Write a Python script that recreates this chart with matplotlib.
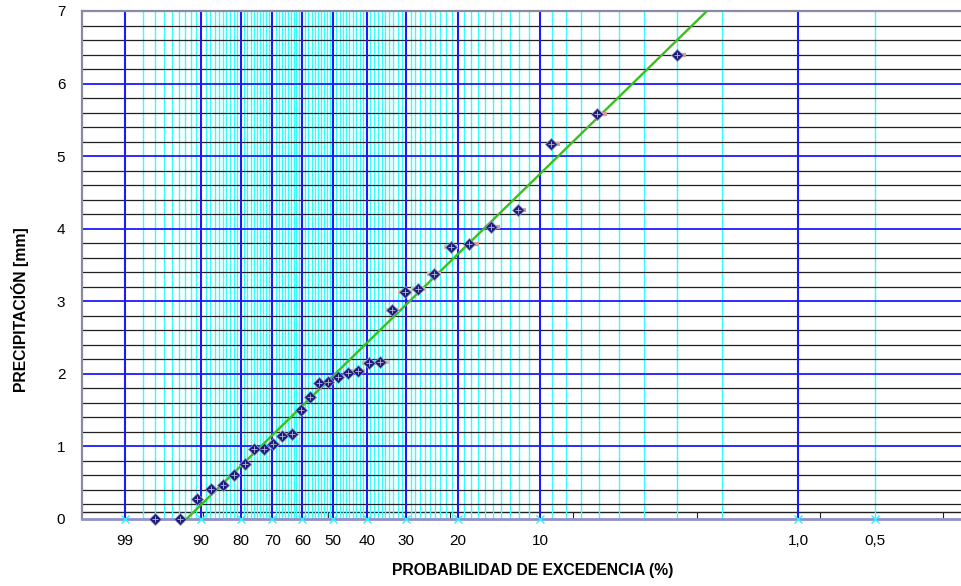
import numpy as np
import matplotlib
matplotlib.use("Agg")
import matplotlib.pyplot as plt

plt.rcParams['font.family'] = ['Liberation Sans', 'DejaVu Sans']

# ---- data ----
exceed_pct = [3.0, 6.1, 9.1, 12.1, 15.2, 18.2, 21.2, 24.2, 27.3, 30.3, 33.3,
              36.4, 39.4, 42.4, 45.5, 48.5, 51.5, 54.5, 57.6, 60.6, 63.6,
              66.7, 69.7, 72.7, 75.8, 78.8, 81.8, 84.8, 87.9, 90.9, 93.9, 97.0]
precip_mm = [6.39, 5.58, 5.17, 4.26, 4.02, 3.785, 3.75, 3.37, 3.17, 3.13, 2.88,
             2.16, 2.15, 2.04, 2.01, 1.95, 1.89, 1.88, 1.68, 1.50, 1.175,
             1.15, 1.03, 0.965, 0.965, 0.755, 0.61, 0.47, 0.41, 0.28, 0.0, 0.0]

pink_exc = [2.9, 5.9, 8.9, 11.9, 14.8, 17.7]
pink_val = [6.39, 5.58, 5.17, 4.26, 4.02, 3.785]
khaki_exc = [21.2, 24.2, 27.3, 30.3, 33.3, 36.0, 39.4, 42.4]
khaki_val = [3.75, 3.37, 3.17, 3.13, 2.88, 2.16, 2.15, 2.04]

# fitted Gumbel line (location, scale)
fit_loc = 1.431
fit_scale = 1.478

tick_pcts = [99, 90, 80, 70, 60, 50, 40, 30, 20, 10, 1.0, 0.5]
tick_labels = ['99', '90', '80', '70', '60', '50', '40', '30', '20', '10', '1,0', '0,5']
major_pcts = [99, 90, 80, 70, 60, 50, 40, 30, 20, 10, 1.0]
minor_pcts = [p for p in range(2, 99) if p % 10 != 0 and p != 99] + [0.5]
sec_ticks_u = [-0.818, 0.320, 1.430, 2.549, 3.676, 4.795, 5.914]


def gumbel_u(pct):
    """reduced Gumbel variate from exceedance probability (%)"""
    F = 1.0 - np.asarray(pct, dtype=float) / 100.0
    return -np.log(-np.log(F))


fig = plt.figure(figsize=(9.61, 5.86), dpi=100)
ax = fig.add_axes([82 / 961, 1 - 519 / 586, 879 / 961, 508 / 586])
ax.set_xlim(-1.919, 6.08)
ax.set_ylim(0, 7)

# vertical grid
for p in minor_pcts:
    ax.axvline(gumbel_u(p), color='#33ffff', lw=1.0, zorder=1)
# horizontal grid
for yv in np.arange(0.2, 7.0, 0.2):
    if abs(yv - round(yv)) < 1e-6:
        continue
    ax.axhline(yv, color='#202020', lw=0.9, zorder=1.5)
for p in major_pcts:
    ax.axvline(gumbel_u(p), color='#1a1aff', lw=1.5, zorder=2)
for yv in range(1, 7):
    ax.axhline(yv, color='#1a1aff', lw=1.3, zorder=2)

# fitted lines
u_line = np.linspace(-2.5, 6.5, 50)
ax.plot(u_line, fit_loc + fit_scale * u_line, color='#c07050', lw=1.8,
        alpha=0.6, zorder=3)
ax.plot(u_line, fit_loc + fit_scale * u_line, color='#22cc11', lw=1.4, zorder=3.1)

# secondary dash markers
ax.plot(gumbel_u(pink_exc), pink_val, ls='none', marker='_', ms=9, mew=3,
        color='#d89a9a', zorder=3.5, clip_on=False)
ax.plot(gumbel_u(khaki_exc), khaki_val, ls='none', marker='_', ms=10, mew=3,
        color='#c8c8a0', zorder=3.5, clip_on=False)

# data points
xu = gumbel_u(exceed_pct)
ax.plot(xu, precip_mm, ls='none', marker='D', ms=5.8, mfc='#1a1a78',
        mec='#8c8cc0', mew=0.6, zorder=4, clip_on=False)
ax.plot(xu, precip_mm, ls='none', marker='+', ms=5, mew=0.6,
        color='#b8b8d8', zorder=4.1, clip_on=False)

# cyan x at ticks
ax.plot(gumbel_u(tick_pcts), [0] * len(tick_pcts), ls='none', marker='x',
        ms=6, mew=1.0, color='#33eeff', zorder=5, clip_on=False)

# axes styling
ax.set_xticks(gumbel_u(tick_pcts))
ax.set_xticklabels(tick_labels)
ax.set_yticks(range(0, 8))
ax.tick_params(axis='x', length=0, pad=11, labelsize=11)
ax.tick_params(axis='y', length=0, pad=12, labelsize=11)
for s in ['top', 'left']:
    ax.spines[s].set_color('#8a8aa0')
    ax.spines[s].set_linewidth(1.6)
ax.spines['right'].set_visible(False)
ax.spines['bottom'].set_color('#9090cc')
ax.spines['bottom'].set_linewidth(2.0)

sec = ax.secondary_xaxis(0.0138)
sec.set_xticks(sec_ticks_u)
sec.set_xticklabels([])
sec.tick_params(length=4, width=0.8, color='#202020', direction='out')
sec.spines['bottom'].set_color('#202020')
sec.spines['bottom'].set_linewidth(1.0)

ax.set_xlabel('PROBABILIDAD DE EXCEDENCIA (%)', fontsize=11.3, fontweight='bold',
              va='center')
ax.xaxis.set_label_coords((533 - 82) / 879, (519 - 571) / 508)
ax.set_ylabel('PRECIPITACIÓN [mm]', fontsize=11.3, fontweight='bold',
              va='center')
ax.yaxis.set_label_coords((20 - 82) / 879, (519 - 310) / 508)

fig.savefig('out.png', dpi=100)
